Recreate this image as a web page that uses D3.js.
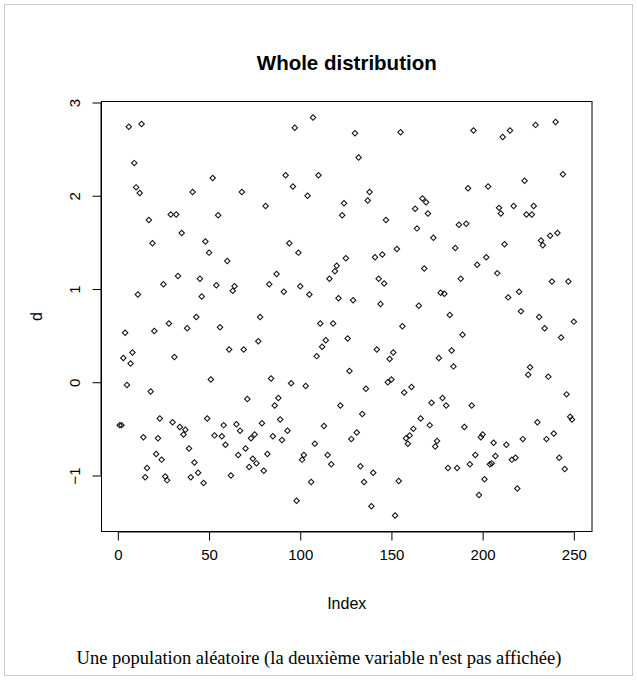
<!DOCTYPE html>
<html>
<head>
<meta charset="utf-8">
<script src="https://cdn.jsdelivr.net/npm/d3@7"></script>
<style>
  body { margin: 0; background: #fff; }
  svg { display: block; }
</style>
</head>
<body>
<svg id="chart" width="637" height="680"></svg>
<script>
// values, one per index 1..250
var d = [
  -0.46, -0.46, 0.26, 0.53, -0.03, 2.74, 0.20, 0.32, 2.35, 2.09,
  0.94, 2.03, 2.77, -0.59, -1.02, -0.92, 1.74, -0.10, 1.49, 0.55,
  -0.77, -0.60, -0.39, -0.83, 1.05, -1.01, -1.05, 0.63, 1.80, -0.43,
  0.27, 1.80, 1.14, -0.48, 1.60, -0.56, -0.51, 0.58, -0.71, -1.02,
  2.04, -0.86, 0.70, -0.97, 1.11, 0.92, -1.08, 1.51, -0.39, 1.39,
  0.03, 2.19, -0.57, 1.04, 1.79, 0.59, -0.58, -0.46, -0.67, 1.30,
  0.35, -1.00, 0.98, 1.03, -0.45, -0.78, -0.52, 2.04, 0.35, -0.71,
  -0.18, -0.91, -0.60, -0.82, -0.56, -0.87, 0.44, 0.70, -0.44, -0.95,
  1.89, -0.77, 1.05, 0.04, -0.58, -0.25, 1.16, -0.17, -0.40, -0.62,
  0.97, 2.22, -0.52, 1.49, -0.01, 2.10, 2.73, -1.27, 1.39, 1.03,
  -0.83, -0.78, -0.04, 2.00, 0.94, -1.07, 2.84, -0.66, 0.28, 2.22,
  0.63, 0.38, -0.47, 0.45, -0.78, 1.11, -0.88, 0.63, 1.19, 1.25,
  0.90, -0.25, 1.79, 1.92, 1.33, 0.47, 0.12, -0.61, 0.88, 2.67,
  -0.54, 2.41, -0.90, -0.34, -1.07, -0.07, 1.95, 2.04, -1.33, -0.97,
  1.34, 0.35, 1.11, 0.84, 1.37, 1.06, 1.74, 0.00, 0.25, 0.03,
  0.32, -1.43, 1.43, -1.06, 2.68, 0.60, -0.11, -0.60, -0.66, -0.57,
  -0.05, -0.50, 1.86, 1.65, 0.82, -0.39, 1.97, 1.22, 1.93, 1.81,
  -0.46, -0.22, 1.55, -0.69, -0.63, 0.26, 0.96, -0.17, 0.95, -0.25,
  -0.92, 0.72, 0.34, 0.17, 1.44, -0.92, 1.69, 1.11, 0.51, -0.48,
  1.70, 2.08, -0.88, -0.25, 2.70, -0.78, 1.26, -1.21, -0.59, -0.56,
  -1.04, 1.34, 2.10, -0.88, -0.87, -0.65, -0.79, 1.17, 1.87, 1.81,
  2.63, 1.48, -0.67, 0.91, 2.70, -0.83, 1.89, -0.81, -1.14, 0.97,
  0.76, -0.61, 2.16, 1.80, 0.08, 0.16, 1.80, 1.89, 2.76, -0.43,
  0.70, 1.52, 1.47, 0.58, -0.61, 0.06, 1.57, 1.08, -0.55, 2.79,
  1.60, -0.81, 0.48, 2.23, -0.93, -0.13, 1.08, -0.37, -0.40, 0.65
];
var xTicks = [0, 50, 100, 150, 200, 250];
var yTicks = [-1, 0, 1, 2, 3];

var title = "Whole distribution";
var xLabel = "Index";
var yLabel = "d";
var caption = "Une population aléatoire (la deuxième variable n'est pas affichée)";

var svg = d3.select("#chart");
var font = "'Liberation Sans', Arial, sans-serif";

// plot region (R default margins)
var plotL = 101.5, plotR = 592, plotT = 101.5, plotB = 531.5;

// R extends the data range by 4% on each side
function rRange(lo, hi) {
  var pad = (hi - lo) * 0.04;
  return [lo - pad, hi + pad];
}

var x = d3.scaleLinear().domain(rRange(1, d.length)).range([plotL, plotR]);
var y = d3.scaleLinear().domain(rRange(d3.min(d), d3.max(d))).range([plotB, plotT]);

// outer frame of the thumbnail
svg.append("rect")
  .attr("x", 4.5).attr("y", 4.5)
  .attr("width", 628).attr("height", 671)
  .attr("fill", "#fff")
  .attr("stroke", "#ccc");

// points (small open circles, rendered diamond-like in the original)
var sym = d3.symbol().type(d3.symbolSquare).size(15);
svg.append("g")
  .selectAll("path")
  .data(d)
  .enter().append("path")
  .attr("d", sym)
  .attr("transform", function(v, i) {
    return "translate(" + x(i + 1) + "," + y(v) + ") rotate(45)";
  })
  .attr("fill", "none")
  .attr("stroke", "#111")
  .attr("stroke-width", 1.05);

// box
svg.append("rect")
  .attr("x", plotL).attr("y", plotT)
  .attr("width", plotR - plotL).attr("height", plotB - plotT)
  .attr("fill", "none")
  .attr("stroke", "#000");

// axes
var xAxis = svg.append("g")
  .attr("transform", "translate(0," + plotB + ")")
  .call(d3.axisBottom(x).tickValues(xTicks).tickSize(9).tickPadding(9));
var yAxis = svg.append("g")
  .attr("transform", "translate(" + plotL + ",0)")
  .call(d3.axisLeft(y).tickValues(yTicks).tickFormat(d3.format("d")).tickSize(9).tickPadding(9));

xAxis.select(".domain").attr("d", "M" + x(0) + ",0.5H" + x(250));
yAxis.select(".domain").attr("d", "M-0.5," + y(-1) + "V" + y(3));
xAxis.selectAll("text").style("font-family", font).style("font-size", "15px").style("fill", "#000");
yAxis.selectAll("text")
  .style("font-family", font).style("font-size", "15px").style("fill", "#000")
  .attr("text-anchor", "middle")
  .attr("dy", null)
  .attr("x", null)
  .attr("transform", "translate(-22,0) rotate(-90)");

// titles
svg.append("text")
  .attr("x", (plotL + plotR) / 2)
  .attr("y", 70)
  .attr("text-anchor", "middle")
  .style("font-family", font)
  .style("font-size", "20.5px")
  .style("font-weight", "bold")
  .text(title);

svg.append("text")
  .attr("x", (plotL + plotR) / 2)
  .attr("y", 609)
  .attr("text-anchor", "middle")
  .style("font-family", font)
  .style("font-size", "16px")
  .text(xLabel);

svg.append("text")
  .attr("transform", "translate(42," + (plotT + plotB) / 2 + ") rotate(-90)")
  .attr("text-anchor", "middle")
  .style("font-family", font)
  .style("font-size", "16px")
  .text(yLabel);

svg.append("text")
  .attr("x", 319)
  .attr("y", 664)
  .attr("text-anchor", "middle")
  .style("font-family", "'Liberation Serif', 'Times New Roman', serif")
  .style("font-size", "18.5px")
  .text(caption);
</script>
</body>
</html>
